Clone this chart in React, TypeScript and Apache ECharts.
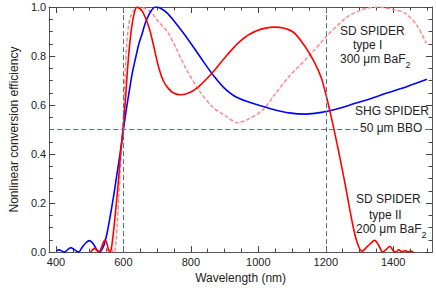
import React, { useEffect, useRef } from "react";
import * as echarts from "echarts";

const X_MIN = 380;
const X_MAX = 1515;
const majorX = [400, 600, 800, 1000, 1200, 1400];
const minorX = [450, 500, 550, 650, 700, 750, 850, 900, 950, 1050, 1100, 1150, 1250, 1300, 1350, 1450, 1500];
const refLinesX = [600, 1200];
const refLineY = 0.5;

// SHG SPIDER, 50 um BBO (blue)
const shgBBO: number[][] = [
  [402, 0.006], [410, 0.009], [418, 0.004], [425, 0.0], [435, 0.01], [444, 0.018], [455, 0.01], [467, 0.0],
  [478, 0.02], [489, 0.038], [499, 0.047], [510, 0.035], [520, 0.012], [530, 0.0], [540, 0.02], [546, 0.045],
  [552, 0.08], [560, 0.14], [570, 0.22], [580, 0.31], [590, 0.4], [600, 0.5], [609, 0.585], [618, 0.662],
  [627, 0.735], [637, 0.797], [646, 0.85], [656, 0.893], [665, 0.935], [675, 0.967], [685, 0.99], [695, 1.0],
  [710, 0.995], [730, 0.975], [752, 0.94], [780, 0.89], [809, 0.834], [840, 0.772], [870, 0.715], [900, 0.668],
  [930, 0.636], [965, 0.615], [1000, 0.6], [1050, 0.58], [1091, 0.568], [1140, 0.563], [1187, 0.57], [1235, 0.585],
  [1283, 0.605], [1330, 0.625], [1379, 0.648], [1440, 0.675], [1500, 0.705],
];

// SD SPIDER type II, 200 um BaF2 (red)
const sdTypeII: number[][] = [
  [503, 0.0], [509, 0.01], [515, 0.015], [521, 0.008], [527, 0.0], [533, 0.012], [540, 0.038], [546, 0.05],
  [551, 0.035], [556, 0.01], [561, 0.0], [566, 0.03], [572, 0.1], [577, 0.17], [582, 0.24], [587, 0.32],
  [592, 0.41], [596, 0.46], [600, 0.52], [606, 0.62], [613, 0.76], [622, 0.89], [632, 0.974], [641, 1.0],
  [655, 0.985], [675, 0.92], [690, 0.84], [704, 0.757], [718, 0.7], [733, 0.668], [750, 0.648], [771, 0.642],
  [795, 0.65], [818, 0.669], [842, 0.7], [867, 0.737], [905, 0.8], [947, 0.862], [995, 0.903], [1048, 0.918],
  [1101, 0.9], [1139, 0.838], [1168, 0.77], [1187, 0.71], [1202, 0.635], [1216, 0.553], [1231, 0.458],
  [1254, 0.302], [1278, 0.125], [1292, 0.044], [1307, 0.003], [1325, 0.025], [1345, 0.048], [1358, 0.025],
  [1369, 0.0], [1380, 0.012], [1390, 0.024], [1400, 0.006], [1408, 0.0], [1416, 0.01], [1425, 0.002],
  [1435, 0.006], [1445, 0.001], [1452, 0.004], [1460, 0.0],
];

// SD SPIDER type I, 300 um BaF2 (light red dashed)
const sdTypeI: number[][] = [
  [550, 0.0], [556, 0.012], [562, 0.015], [568, 0.005], [573, 0.0], [578, 0.04], [582, 0.12], [586, 0.22],
  [590, 0.32], [594, 0.42], [598, 0.5], [602, 0.62], [606, 0.75], [610, 0.85], [615, 0.92], [620, 0.955],
  [627, 0.98], [641, 0.995], [655, 0.997], [670, 0.99], [685, 0.974], [704, 0.94], [730, 0.9], [755, 0.835],
  [785, 0.75], [827, 0.655], [866, 0.59], [904, 0.555], [938, 0.528], [970, 0.542], [1013, 0.58],
  [1050, 0.645], [1091, 0.716], [1158, 0.811], [1201, 0.879], [1264, 0.96], [1300, 0.985], [1330, 0.997],
  [1355, 1.0], [1400, 0.99], [1436, 0.974], [1470, 0.925], [1498, 0.852],
];

const FONT = '"Liberation Sans", Arial, sans-serif';
const AXIS_COLOR = "#555";
const TICK_COLOR = "#444";
const TEXT_COLOR = "#222";

function xAxis(position: string, values: number[], len: number, labels: boolean, name?: string) {
  return {
    type: "value",
    min: X_MIN,
    max: X_MAX,
    position,
    gridIndex: 0,
    name: name || "",
    nameLocation: "middle",
    nameGap: 11,
    nameTextStyle: { fontFamily: FONT, fontSize: 12, color: TEXT_COLOR },
    axisLine: { show: true, onZero: false, lineStyle: { color: AXIS_COLOR, width: 1 } },
    axisTick: { show: true, inside: true, length: len, customValues: values, lineStyle: { color: TICK_COLOR, width: 1 } },
    axisLabel: labels
      ? {
          show: true,
          customValues: majorX,
          fontFamily: FONT,
          fontSize: 11,
          color: TEXT_COLOR,
          margin: 4,
          formatter: (v: number) => String(v),
        }
      : { show: false },
    splitLine: { show: false },
    minorTick: { show: false },
  };
}

function yAxis(position: string, labels: boolean, name?: string) {
  return {
    type: "value",
    min: 0,
    max: 1,
    interval: 0.2,
    position,
    gridIndex: 0,
    name: name || "",
    nameLocation: "middle",
    nameGap: 22,
    nameTextStyle: { fontFamily: FONT, fontSize: 12, color: TEXT_COLOR },
    axisLine: { show: true, onZero: false, lineStyle: { color: AXIS_COLOR, width: 1 } },
    axisTick: { show: true, inside: true, length: 6, lineStyle: { color: TICK_COLOR, width: 1 } },
    minorTick: { show: true, splitNumber: 4, length: 3.5, lineStyle: { color: TICK_COLOR, width: 1 } },
    axisLabel: labels
      ? { show: true, fontFamily: FONT, fontSize: 11, color: TEXT_COLOR, margin: 3, formatter: (v: number) => v.toFixed(1) }
      : { show: false },
    splitLine: { show: false },
  };
}

function label(x: number, y: number, text: string, extra: any = {}) {
  return {
    type: "text",
    x,
    y,
    z: 100,
    style: {
      text,
      fill: TEXT_COLOR,
      fontFamily: FONT,
      fontSize: 12,
      align: "left",
      verticalAlign: "middle",
      ...extra,
    },
  };
}

const subRich = { s: { fontSize: 9, fontFamily: FONT, fill: TEXT_COLOR, verticalAlign: "bottom" } };

export default function App() {
  const ref = useRef<HTMLDivElement>(null);
  useEffect(() => {
    if (!ref.current) return;
    const chart = echarts.init(ref.current, null, { renderer: "svg" });
    chart.setOption({
      animation: false,
      backgroundColor: "#fff",
      grid: { left: 37, right: 4, top: 7, bottom: 36.5, containLabel: false },
      xAxis: [
        xAxis("bottom", majorX, 6, true, "Wavelength (nm)"),
        xAxis("bottom", minorX, 3.5, false),
        xAxis("top", majorX, 6, false),
        xAxis("top", minorX, 3.5, false),
      ],
      yAxis: [yAxis("left", true, "Nonlinear conversion efficiency"), yAxis("right", false)],
      series: [
        {
          type: "line",
          name: "SD SPIDER type I",
          data: sdTypeI,
          xAxisIndex: 0,
          yAxisIndex: 0,
          showSymbol: false,
          smooth: 0.3,
          lineStyle: { color: "#ff8a8a", width: 1.5, type: [4, 2] },
          z: 2,
        },
        {
          type: "line",
          name: "SHG SPIDER",
          data: shgBBO,
          xAxisIndex: 0,
          yAxisIndex: 0,
          showSymbol: false,
          smooth: 0.3,
          lineStyle: { color: "#0000ff", width: 1.6 },
          z: 3,
          markLine: {
            silent: true,
            symbol: ["none", "none"],
            label: { show: false },
            lineStyle: { color: "#4f6f8f", width: 1, type: [5, 3] },
            data: [...refLinesX.map((v) => ({ xAxis: v })), { yAxis: refLineY }],
          },
        },
        {
          type: "line",
          name: "SD SPIDER type II",
          data: sdTypeII,
          xAxisIndex: 0,
          yAxisIndex: 0,
          showSymbol: false,
          smooth: 0.3,
          lineStyle: { color: "#ff0000", width: 1.6 },
          z: 4,
        },
      ],
      graphic: [
        label(340, 31, "SD SPIDER"),
        label(353, 45, "type I"),
        label(340, 59, "300 μm BaF{s|2}", { rich: subRich, lineHeight: 20 }),
        label(355, 111, "SHG SPIDER"),
        label(358, 127.5, "50 μm BBO", { backgroundColor: "#fff", padding: [1, 2, 1, 2] }),
        label(356, 199, "SD SPIDER"),
        label(369, 214.5, "type II"),
        label(356, 229, "200 μm BaF{s|2}", { rich: subRich, lineHeight: 20 }),
      ],
    });
    return () => chart.dispose();
  }, []);
  return <div ref={ref} style={{ position: "fixed", left: 0, top: 0, width: 436, height: 289 }} />;
}
